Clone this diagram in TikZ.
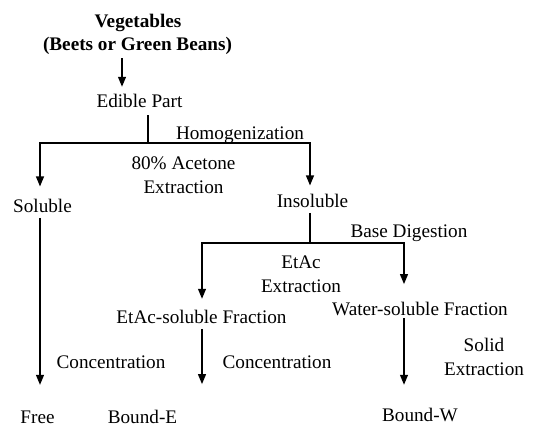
\documentclass[tikz,border=0pt]{standalone}
\usepackage{fontspec}
\setmainfont{Liberation Serif}
\usetikzlibrary{arrows.meta}
\begin{document}
\begin{tikzpicture}[x=0.75pt,y=-0.75pt,>={Triangle[length=7.5pt,width=6pt]},line join=miter,
  every node/.style={inner sep=0pt,anchor=base,font=\fontsize{14.4}{17.5}\selectfont},
  flow/.style={black,line width=0.9pt}]
\useasboundingbox (0,0) rectangle (536,426);
%%
\node (node_veg) at (138,27) {\bfseries Vegetables};
  \node (node_vegsub) at (137.5,50) {\bfseries (Beets or Green Beans)};
  \node (node_edible) at (139.5,107) {Edible Part};
  \node (node_soluble) at (42.5,212) {Soluble};
  \node (node_insoluble) at (312.5,207) {Insoluble};
  \node (node_etac) at (201.5,323) {EtAc-soluble Fraction};
  \node (node_water) at (420,315) {Water-soluble Fraction};
  \node (node_free) at (37.5,423) {Free};
  \node (node_bounde) at (142.5,423) {Bound-E};
  \node (node_boundw) at (420,421) {Bound-W};
%
  \node (lbl_homog) at (240,139) {Homogenization};
  \node (lbl_acetone) at (183.5,193) [align=center] {80\% Acetone\\Extraction};
  \node (lbl_base) at (409,237) {Base Digestion};
  \node (lbl_etacext) at (301,292) [align=center] {EtAc\\Extraction};
  \node (lbl_conc_a) at (111,368) {Concentration};
  \node (lbl_conc_b) at (277,368) {Concentration};
  \node (lbl_solid) at (484,375) [align=center] {Solid\\Extraction};
%
  \coordinate (a_veg) at (122,58);
  \coordinate (j_top) at (148,143);
  \coordinate (j_left) at (40,143);
  \coordinate (j_right) at (310,143);
  \coordinate (j_mid) at (310,243);
  \coordinate (j_etac) at (202,243);
  \coordinate (j_water) at (404,243);
%
  \draw [flow,->,shorten <=3pt,shorten >=5pt] (node_vegsub.south -| a_veg) -- (node_edible.north -| a_veg);
  \draw [flow,shorten <=6pt] (node_edible.south -| j_top) -- (j_top);
  \draw [flow,->,shorten >=9pt] (j_top) -- (j_left) -- (node_soluble.north -| j_left);
  \draw [flow,->,shorten >=6pt] (j_top) -- (j_right) -- (node_insoluble.north -| j_right);
  \draw [flow,->,shorten <=4pt,shorten >=19pt] (node_soluble.south -| j_left) -- (node_free.north -| j_left);
  \draw [flow,shorten <=4pt] (node_insoluble.south -| j_mid) -- (j_mid);
  \draw [flow,->,shorten >=8pt] (j_mid) -- (j_etac) -- (node_etac.north -| j_etac);
  \draw [flow,->,shorten >=13pt] (j_mid) -- (j_water) -- (node_water.north -| j_water);
  \draw [flow,->,shorten <=4pt,shorten >=19pt] (node_etac.south -| j_etac) -- (node_bounde.north -| j_etac);
  \draw [flow,->,shorten <=2pt,shorten >=17pt] (node_water.south -| j_water) -- (node_boundw.north -| j_water);
%
\end{tikzpicture}
\end{document}
